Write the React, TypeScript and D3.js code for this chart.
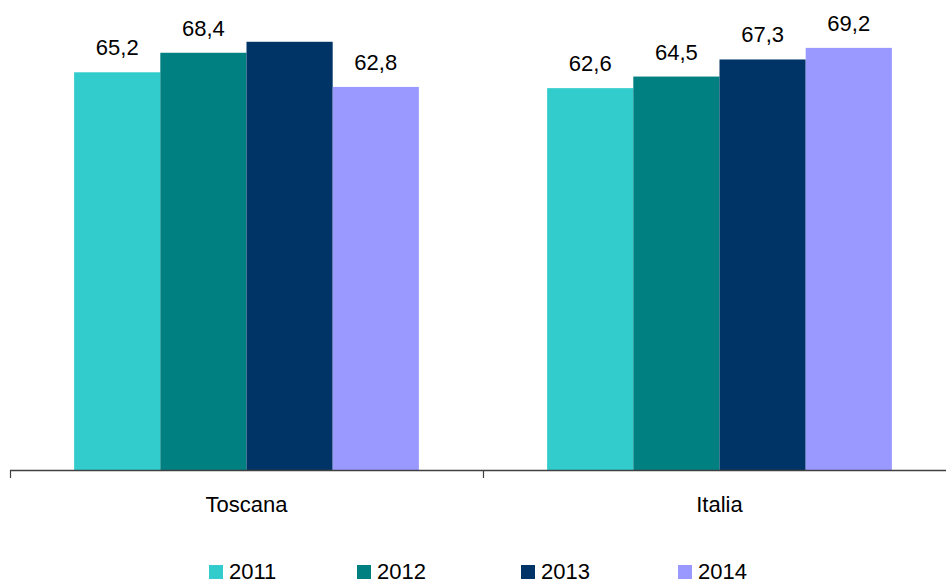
import React from "react";
import * as d3 from "d3";

const categories = ["Toscana", "Italia"];
const years = ["2011", "2012", "2013", "2014"];
const values2011 = [65.2, 62.6];
const values2012 = [68.4, 64.5];
const values2013 = [70.2, 67.3];
const values2014 = [62.8, 69.2];
const showLabel2013 = [false, true];
const colors = ["#33CCCC", "#008080", "#003366", "#9999FF"];

const W = 946;
const H = 581;
const FONT = "'Liberation Sans', Arial, sans-serif";

export default function App() {
  const series = [values2011, values2012, values2013, values2014];
  const x = d3.scaleBand<string>().domain(categories).range([10, 956]).paddingInner(0).paddingOuter(0);
  const inner = d3.scaleBand<string>().domain(years).range([0, x.bandwidth()]).paddingInner(0).paddingOuter(0.744);
  const baseY = 470;
  const y = d3.scaleLinear().domain([0, 70]).range([baseY, baseY - 70 * 6.1]);
  const fmt = (v: number) => v.toFixed(1).replace(".", ",");
  const legendX = [209, 357, 521, 678];

  return (
    <svg width={W} height={H} style={{ position: "absolute", left: 0, top: 0, background: "#fff" }}>
      {categories.map((c, ci) => (
        <g key={c}>
          {series.map((s, si) => {
            const bx = (x(c) as number) + (inner(years[si]) as number);
            const bw = inner.bandwidth();
            const top = y(s[ci]);
            const show = si !== 2 || showLabel2013[ci];
            return (
              <g key={si}>
                <rect x={bx} y={top} width={bw} height={baseY - top} fill={colors[si]} />
                {show && (
                  <text x={bx + bw / 2} y={top - 17} textAnchor="middle" fontFamily={FONT} fontSize={22} fill="#000">
                    {fmt(s[ci])}
                  </text>
                )}
              </g>
            );
          })}
          <text x={(x(c) as number) + x.bandwidth() / 2} y={512} textAnchor="middle" fontFamily={FONT} fontSize={22} fill="#000">
            {c}
          </text>
        </g>
      ))}
      <line x1={10} x2={W} y1={baseY + 0.5} y2={baseY + 0.5} stroke="#404040" strokeWidth={1.5} />
      {[...categories.map((c) => x(c) as number), 956].map((t, i) => (
        <line key={i} x1={t + 0.5} x2={t + 0.5} y1={baseY} y2={baseY + 8} stroke="#404040" strokeWidth={1.2} />
      ))}
      {years.map((yr, i) => (
        <g key={yr}>
          <rect x={legendX[i]} y={565} width={14} height={14} fill={colors[i]} />
          <text x={legendX[i] + 20} y={579} fontFamily={FONT} fontSize={22} fill="#000">
            {yr}
          </text>
        </g>
      ))}
    </svg>
  );
}
